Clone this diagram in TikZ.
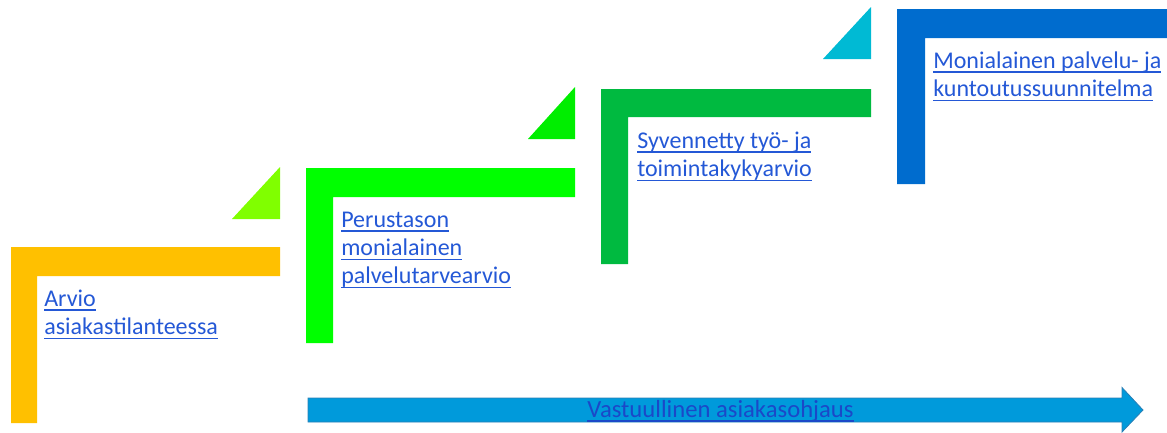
\documentclass[tikz,border=0pt]{standalone}
\usepackage{fontspec}
\setmainfont{Carlito}
\definecolor{cOrange}{HTML}{FFC000}
\definecolor{cLime}{HTML}{80FF00}
\definecolor{cGreen}{HTML}{00FF00}
\definecolor{cGreenTri}{HTML}{00EE00}
\definecolor{cDark}{HTML}{00BA40}
\definecolor{cCyan}{HTML}{00BAD4}
\definecolor{cBlue}{HTML}{006CCE}
\definecolor{cArrow}{HTML}{009ADB}
\definecolor{cArrowEdge}{HTML}{2A7FB5}
\definecolor{cLink}{HTML}{2458D6}
\definecolor{cLinkDark}{HTML}{1B48C8}
\newcommand\lnkline[1]{\leavevmode\setbox0\hbox{#1}\rlap{\rule[-3.4pt]{\wd0}{0.8pt}}\box0}
\tikzset{
  lbox/.style={inner sep=0pt, anchor=base west, text=cLink, font=\fontsize{18}{21.3}\selectfont},
  shape fill/.style={draw=none}
}
\begin{document}
\begin{tikzpicture}[x=0.75pt,y=-0.75pt]
\useasboundingbox (0,0) rectangle (1167,432);
% L shapes
\fill[cOrange] (11,247) -- (280,247) -- (280,276) -- (37,276) -- (37,423) -- (11,423) -- cycle;
\fill[cGreen] (306,168) -- (575,168) -- (575,197) -- (333,197) -- (333,343) -- (306,343) -- cycle;
\fill[cDark] (601,89) -- (871,89) -- (871,117) -- (628,117) -- (628,264) -- (601,264) -- cycle;
\fill[cBlue] (897,9) -- (1167,9) -- (1167,38) -- (925,38) -- (925,184) -- (897,184) -- cycle;
% triangles
\fill[cLime] (232,219) -- (280,219) -- (280,167) -- cycle;
\fill[cGreenTri] (528,139) -- (575,139) -- (575,87) -- cycle;
\fill[cCyan] (823,59) -- (871,59) -- (871,7) -- cycle;
% arrow
\filldraw[fill=cArrow, draw=cArrowEdge, line width=0.6pt]
  (308,398) -- (1122,398) -- (1122,387.5) -- (1143,410) -- (1122,432) -- (1122,422) -- (308,422) -- cycle;
% texts
\node[lbox] (t1) at (44,306) {\parbox[t]{220pt}{\raggedright\lnkline{Arvio}\\\lnkline{asiakastilanteessa}}};
\node[lbox] (t2) at (341,227) {\parbox[t]{220pt}{\raggedright\lnkline{Perustason}\\\lnkline{monialainen}\\\lnkline{palvelutarvearvio}}};
\node[lbox] (t3) at (637,148) {\parbox[t]{220pt}{\raggedright\lnkline{Syvennetty työ- ja}\\\lnkline{toimintakykyarvio}}};
\node[lbox] (t4) at (933,68) {\parbox[t]{220pt}{\raggedright\lnkline{Monialainen palvelu- ja}\\\lnkline{kuntoutussuunnitelma}}};
\node[inner sep=0pt, anchor=base, text=cLinkDark, font=\fontsize{18.5}{22}\selectfont] (t5) at (720.5,417) {\lnkline{Vastuullinen asiakasohjaus}};
\end{tikzpicture}
\end{document}
